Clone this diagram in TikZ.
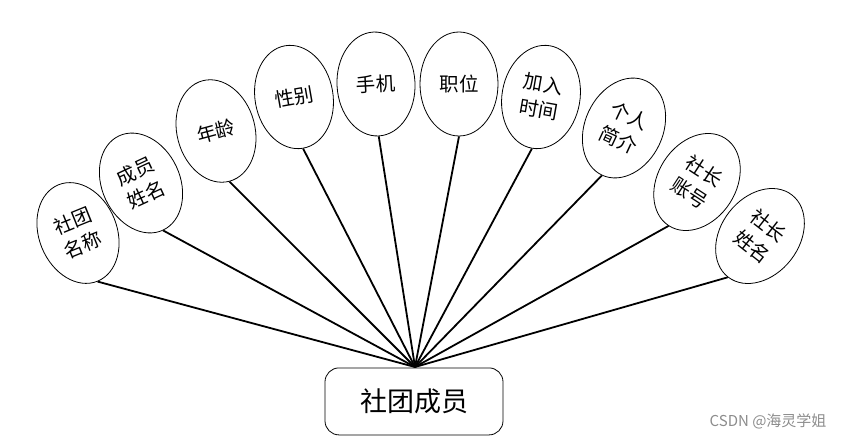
\documentclass[tikz,border=0pt]{standalone}
\usepackage{fontspec}
\setmainfont{Noto Sans CJK SC}
\usetikzlibrary{shapes.geometric}
\begin{document}
\begin{tikzpicture}[x=1pt,y=-1pt,
  attr/.style={ellipse,draw,line width=0.8pt,minimum width=78pt,minimum height=104pt,inner sep=0pt,
    align=center,font=\fontsize{19.5}{26}\selectfont},
  ent/.style={draw,line width=0.8pt,rounded corners=14pt,minimum width=178pt,minimum height=67pt,
    font=\fontsize{27}{30}\selectfont},
  link/.style={line width=1.8pt}]
\useasboundingbox (0,0) rectangle (843,441);
\node[attr,rotate=22]  (e1)  at (78,233)  {社团\\名称};
\node[attr,rotate=25]  (e2)  at (141,183) {成员\\姓名};
\node[attr,rotate=15]  (e3)  at (216,131) {年龄};
\node[attr,rotate=10]  (e4)  at (294,97)  {性别};
\node[attr,rotate=3]   (e5)  at (376,84)  {手机};
\node[attr,rotate=0]   (e6)  at (459,84)  {职位};
\node[attr,rotate=-10] (e7)  at (541,97)  {加入\\时间};
\node[attr,rotate=-25] (e8)  at (624,128) {个人\\简介};
\node[attr,rotate=-33] (e9)  at (697,182) {社长\\账号};
\node[attr,rotate=-38] (e10) at (760,236) {社长\\姓名};
\coordinate (hub) at (415,367);
\node[ent,anchor=north] (m) at (414,367.5) {社团成员};
\foreach \i in {1,...,10} \draw[link] (e\i.south) -- (hub);
\node[text=black!45,font=\fontsize{15}{17}\selectfont,anchor=east] (wm) at (830,421) {CSDN @海灵学姐};
\end{tikzpicture}
\end{document}
